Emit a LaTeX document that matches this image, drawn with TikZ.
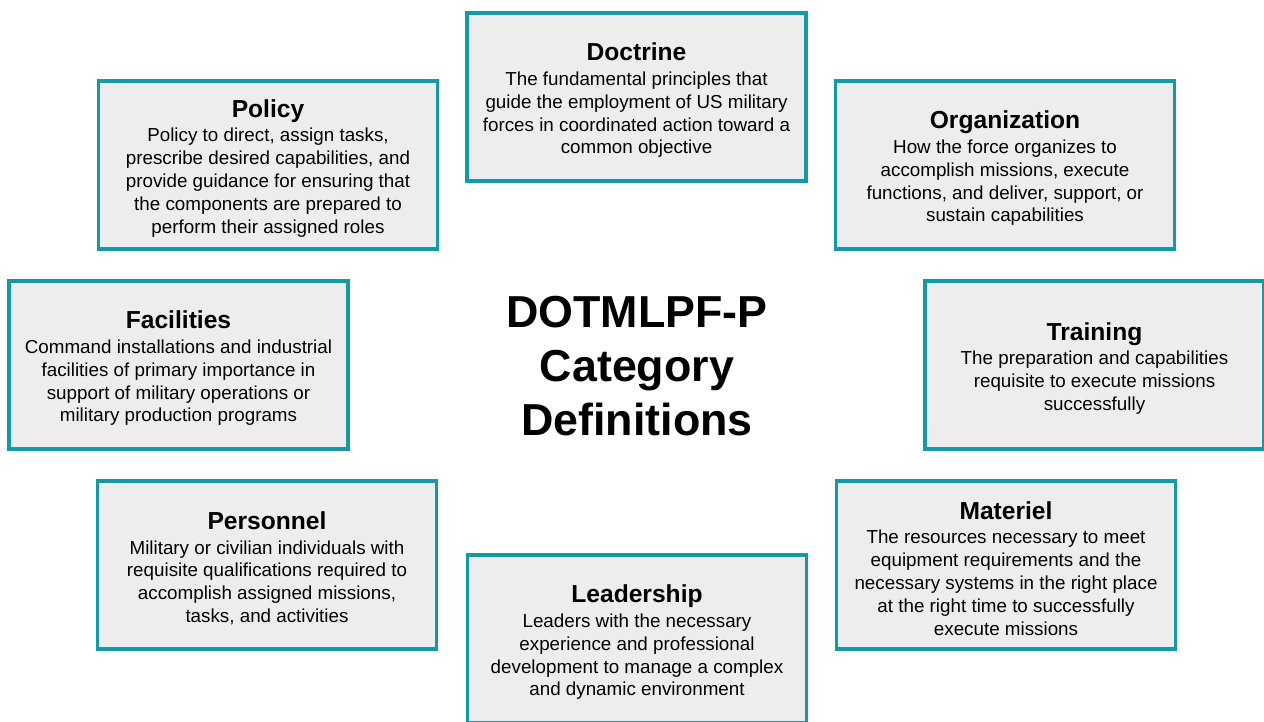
\documentclass[tikz,border=0pt]{standalone}
\usepackage{fontspec}
\setmainfont{Liberation Sans}
\definecolor{boxteal}{RGB}{20,153,166}
\definecolor{boxgrey}{RGB}{237,237,237}
\newcommand{\cattitle}[1]{{\fontsize{14}{16}\selectfont\bfseries\rule{0pt}{14pt}#1}\\[1pt]}

\begin{document}
\begin{tikzpicture}[x=0.02cm, y=-0.02cm,
	catbox/.style={shape=rectangle, draw=boxteal, fill=boxgrey, line width=2pt, minimum width=6.79cm, minimum height=3.37cm, align=center, font=\fontsize{10.7}{13}\selectfont, inner sep=0pt}]
	\useasboundingbox (0, 0) rectangle (1264, 721);
	\node[catbox](Doctrine) at (636.5, 97){\cattitle{Doctrine}The fundamental principles that\\guide the employment of US military\\forces in coordinated action toward a\\common objective};
	\node[catbox](Policy) at (268, 165){\cattitle{Policy}Policy to direct, assign tasks,\\prescribe desired capabilities, and\\provide guidance for ensuring that\\the components are prepared to\\perform their assigned roles};
	\node[catbox](Organization) at (1005, 165){\cattitle{Organization}How the force organizes to\\accomplish missions, execute\\functions, and deliver, support, or\\sustain capabilities};
	\node[catbox](Facilities) at (178.5, 365){\cattitle{Facilities}Command installations and industrial\\facilities of primary importance in\\support of military operations or\\military production programs};
	\node[catbox](Training) at (1094.5, 365){\cattitle{Training}The preparation and capabilities\\requisite to execute missions\\successfully};
	\node[catbox](Personnel) at (267, 565){\cattitle{Personnel}Military or civilian individuals with\\requisite qualifications required to\\accomplish assigned missions,\\tasks, and activities};
	\node[catbox](Materiel) at (1006, 565){\cattitle{Materiel}The resources necessary to meet\\equipment requirements and the\\necessary systems in the right place\\at the right time to successfully\\execute missions};
	\node[catbox](Leadership) at (637, 639){\cattitle{Leadership}Leaders with the necessary\\experience and professional\\development to manage a complex\\and dynamic environment};
	\node[align=center, font=\fontsize{25.5}{30.6}\selectfont\bfseries](Center) at (637, 366){DOTMLPF-P\\Category\\Definitions};
\end{tikzpicture}
\end{document}
